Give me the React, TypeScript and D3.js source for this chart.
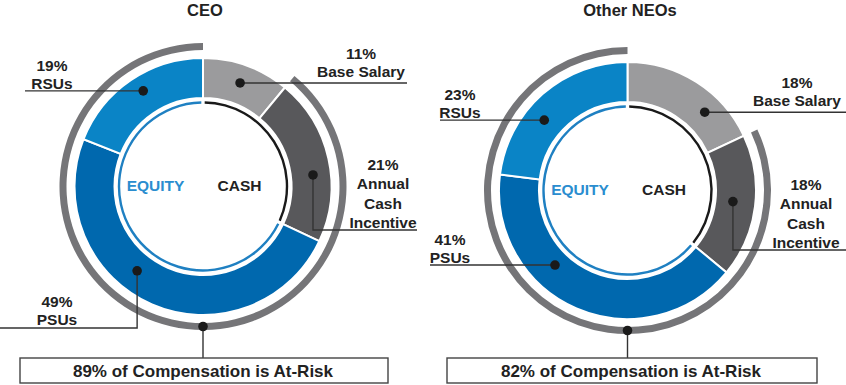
import React from "react";
import * as d3 from "d3";

// ---- Data ----
const segmentNames = ["Base Salary", "Annual Cash Incentive", "PSUs", "RSUs"];
const segmentLabelLines = [["Base Salary"], ["Annual", "Cash", "Incentive"], ["PSUs"], ["RSUs"]];
const segmentGroup = ["cash", "cash", "equity", "equity"];
const ceoValues = [11, 21, 49, 19];
const neoValues = [18, 18, 41, 23];
const chartTitles = ["CEO", "Other NEOs"];
const atRiskValues = [89, 82];

// ---- Styles ----
const W = 846;
const H = 385;
const FONT = "'Liberation Sans', Arial, Helvetica, sans-serif";
const segColors = ["#9b9b9d", "#58585b", "#0068ae", "#0a84c6"];
const ringColor = "#757578";
const inkColor = "#222222";
const equityTextColor = "#2a8dcf";
const thinBlue = "#1f80c2";

const R_OUT = 128.5;
const R_IN = 88.5;
const RING_IN = 136.5;
const RING_OUT = 143.5;
const THIN_R = 84;

type LabelLayout = {
  dotAngle: number;
  dotR: number;
  leader: "h" | "vh";
  toY?: number;
  toX: number;
  textX: number;
  baseline: number;
  lineH: number;
};

type ChartLayout = {
  cx: number;
  cy: number;
  titleX: number;
  labels: LabelLayout[];
  box: [number, number]; // x0, x1
  boxTextX: number;
};

const layouts: ChartLayout[] = [
  {
    cx: 203,
    cy: 186.5,
    titleX: 205,
    labels: [
      { dotAngle: 19.7, dotR: 110, leader: "h", toX: 407, textX: 361, baseline: 59, lineH: 18 },
      { dotAngle: 84, dotR: 110.6, leader: "vh", toY: 230, toX: 417, textX: 383, baseline: 170, lineH: 19.4 },
      { dotAngle: 218, dotR: 107, leader: "vh", toY: 328, toX: 0, textX: 57, baseline: 307, lineH: 18 },
      { dotAngle: 328, dotR: 112.8, leader: "h", toX: 25, textX: 52, baseline: 71, lineH: 18 },
    ],
    box: [20, 388],
    boxTextX: 203,
  },
  {
    cx: 627.5,
    cy: 190.5,
    titleX: 630,
    labels: [
      { dotAngle: 44.6, dotR: 110, leader: "h", toX: 846, textX: 797, baseline: 88, lineH: 18 },
      { dotAngle: 96, dotR: 106, leader: "vh", toY: 250, toX: 846, textX: 806, baseline: 190, lineH: 19.4 },
      { dotAngle: 224.2, dotR: 104, leader: "h", toX: 430, textX: 450, baseline: 245, lineH: 18 },
      { dotAngle: 310.2, dotR: 109, leader: "h", toX: 440, textX: 460, baseline: 100, lineH: 18 },
    ],
    box: [447, 817],
    boxTextX: 631,
  },
];

const BOX_Y0 = 358;
const BOX_Y1 = 383;

function polar(cx: number, cy: number, r: number, deg: number): [number, number] {
  const a = (deg * Math.PI) / 180;
  return [cx + r * Math.sin(a), cy - r * Math.cos(a)];
}

function Donut({ values, title, atRisk, layout }: { values: number[]; title: string; atRisk: number; layout: ChartLayout }) {
  const { cx, cy } = layout;
  const pie = d3.pie<number>().sort(null).value((d) => d);
  const arcs = pie(values);
  const segArc = d3.arc<d3.PieArcDatum<number>>().innerRadius(R_IN).outerRadius(R_OUT);

  // outer "at-risk" ring: from end of base salary to full circle
  const ringStart = arcs[0].endAngle;
  const ringPath = d3.arc()({ innerRadius: RING_IN, outerRadius: RING_OUT, startAngle: ringStart, endAngle: 2 * Math.PI }) as string;

  // inner thin ring: cash (black) and equity (blue)
  const cashEnd = arcs
    .filter((_, i) => segmentGroup[i] === "cash")
    .reduce((m, a) => Math.max(m, a.endAngle), 0);
  const gap = 0.02;
  const thinCash = d3.arc()({ innerRadius: THIN_R - 1.2, outerRadius: THIN_R + 1.2, startAngle: gap, endAngle: cashEnd - gap }) as string;
  const thinEq = d3.arc()({ innerRadius: THIN_R - 1.2, outerRadius: THIN_R + 1.2, startAngle: cashEnd + gap, endAngle: 2 * Math.PI - gap }) as string;

  const [rdx, rdy] = polar(cx, cy, (RING_IN + RING_OUT) / 2, 180);

  return (
    <g>
      <text x={layout.titleX} y={16} textAnchor="middle" fontFamily={FONT} fontWeight="bold" fontSize={16.5} fill={inkColor}>
        {title}
      </text>
      <path d={ringPath} transform={`translate(${cx},${cy})`} fill={ringColor} />
      <g transform={`translate(${cx},${cy})`}>
        {arcs.map((a, i) => (
          <path key={i} d={segArc(a) as string} fill={segColors[i]} stroke="#fff" strokeWidth={2} />
        ))}
        <path d={thinCash} fill="#1a1a1a" />
        <path d={thinEq} fill={thinBlue} />
      </g>
      <text x={cx - 47.5} y={cy + 4.8} textAnchor="middle" fontFamily={FONT} fontWeight="bold" fontSize={15.5} fill={equityTextColor}>
        EQUITY
      </text>
      <text x={cx + 36.5} y={cy + 4.8} textAnchor="middle" fontFamily={FONT} fontWeight="bold" fontSize={15.5} fill={inkColor}>
        CASH
      </text>
      {layout.labels.map((L, i) => {
        const [dx, dy] = polar(cx, cy, L.dotR, L.dotAngle);
        const d =
          L.leader === "h"
            ? `M${dx},${dy}H${L.toX}`
            : `M${dx},${dy}V${L.toY}H${L.toX}`;
        const lines = [`${values[i]}%`, ...segmentLabelLines[i]];
        return (
          <g key={segmentNames[i]}>
            <path d={d} fill="none" stroke="#333" strokeWidth={1.4} />
            <circle cx={dx} cy={dy} r={4.8} fill="#1a1a1a" />
            {lines.map((t, j) => (
              <text key={j} x={L.textX} y={L.baseline + j * L.lineH} textAnchor="middle" fontFamily={FONT} fontWeight="bold" fontSize={15.5} fill={inkColor}>
                {t}
              </text>
            ))}
          </g>
        );
      })}
      <path d={`M${rdx},${rdy}V${BOX_Y0}`} stroke="#333" strokeWidth={1.4} />
      <circle cx={rdx} cy={rdy} r={4.8} fill="#1a1a1a" />
      <rect x={layout.box[0]} y={BOX_Y0} width={layout.box[1] - layout.box[0]} height={BOX_Y1 - BOX_Y0} fill="#fff" stroke="#444" strokeWidth={1.4} />
      <text x={layout.boxTextX} y={377} textAnchor="middle" fontFamily={FONT} fontWeight="bold" fontSize={17} fill={inkColor}>
        {`${atRisk}% of Compensation is At-Risk`}
      </text>
    </g>
  );
}

export default function App() {
  const series = [ceoValues, neoValues];
  return (
    <svg width={W} height={H} style={{ position: "absolute", left: 0, top: 0, background: "#fff" }}>
      <rect width={W} height={H} fill="#fff" />
      {series.map((vals, i) => (
        <Donut key={chartTitles[i]} values={vals} title={chartTitles[i]} atRisk={atRiskValues[i]} layout={layouts[i]} />
      ))}
    </svg>
  );
}
